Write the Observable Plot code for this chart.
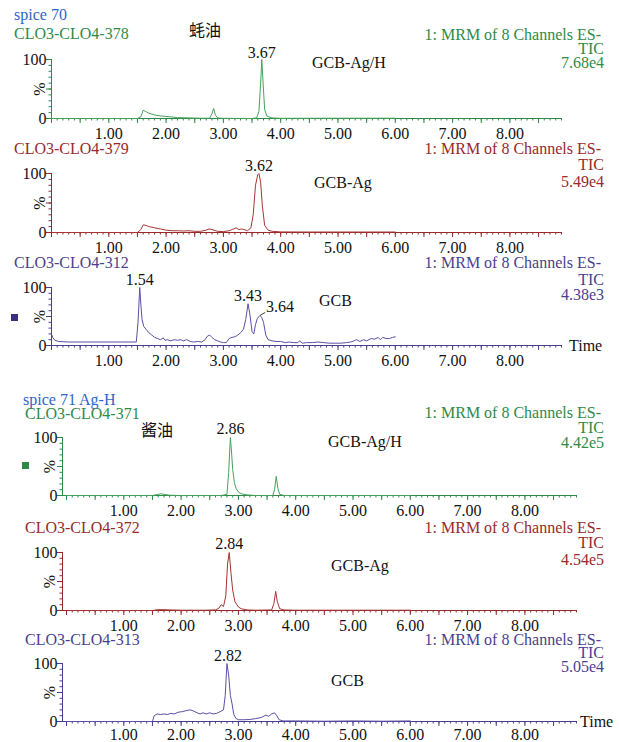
<!DOCTYPE html>
<html><head><meta charset="utf-8">
<script src="https://cdn.jsdelivr.net/npm/d3@7"></script>
<script src="https://cdn.jsdelivr.net/npm/@observablehq/plot@0.6"></script>
<style>
body{margin:0;background:#fff}
#c{position:relative;width:619px;height:742px;overflow:hidden;background:#fff;font-family:"Liberation Serif","Times New Roman",serif;font-size:16px}
.t{position:absolute;line-height:12px;white-space:nowrap}
.cjk{font-family:"Noto Sans CJK SC",sans-serif}
.sq{position:absolute;width:7px;height:7px}
</style></head>
<body><div id="c"></div>
<script>
// ---- data: [time (min), relative intensity %] ----
const s378 = [[0,0],[1.5,0],[1.56,3],[1.6,14],[1.64,12],[1.7,9],[1.8,6],[1.9,4.5],[2.0,3.5],[2.1,2.5],[2.2,1.5],[2.4,1],[2.6,0.5],[2.76,0.5],[2.8,8],[2.83,17],[2.86,6],[2.9,1],[3.0,0.3],[3.5,0],[3.58,1],[3.62,12],[3.65,60],[3.67,100],[3.69,65],[3.72,15],[3.76,4],[3.85,1],[4.0,0.3],[5.0,0.5],[6.0,0.5]];
const s379 = [[0,0],[1.5,0],[1.56,5],[1.6,13],[1.65,12],[1.7,10],[1.8,8],[1.9,6],[2.0,4],[2.1,3],[2.2,3],[2.3,2.5],[2.4,3],[2.5,2],[2.6,2],[2.7,4],[2.75,6],[2.8,5],[2.9,2],[3.0,1.5],[3.1,3],[3.18,6],[3.22,8],[3.27,5],[3.32,6],[3.36,5],[3.42,3],[3.48,8],[3.52,30],[3.56,80],[3.6,98],[3.62,100],[3.65,85],[3.68,45],[3.72,12],[3.78,4],[3.85,2],[4.0,1],[4.5,0.8],[5.0,0.8],[5.5,0.8],[6.0,0.8]];
const s312 = [[0,20],[0.02,14],[0.06,9],[0.12,7],[0.3,6],[0.6,6],[0.9,6],[1.2,6],[1.48,6],[1.51,40],[1.54,100],[1.56,70],[1.58,45],[1.61,33],[1.65,28],[1.7,22],[1.75,18],[1.8,14],[1.85,12],[1.9,10],[1.95,13],[1.98,9],[2.02,10],[2.08,8],[2.14,10],[2.2,9],[2.26,10],[2.3,8],[2.36,10],[2.42,7],[2.48,6],[2.55,7],[2.62,6],[2.68,10],[2.72,16],[2.76,18],[2.8,14],[2.85,10],[2.9,8],[2.95,6],[3.0,5],[3.05,5],[3.1,12],[3.15,14],[3.2,15],[3.25,18],[3.3,22],[3.35,28],[3.39,45],[3.43,72],[3.46,55],[3.5,24],[3.53,20],[3.56,36],[3.59,46],[3.62,50],[3.64,52],[3.67,48],[3.7,40],[3.74,18],[3.78,10],[3.85,8],[3.92,7],[4.0,7],[4.08,5],[4.15,6],[4.22,5],[4.3,5],[4.33,8],[4.38,4],[4.45,5],[4.55,5],[4.65,6],[4.75,5],[4.85,4],[4.95,4],[5.05,4],[5.15,5],[5.22,6],[5.28,8],[5.32,10],[5.38,7],[5.45,10],[5.5,8],[5.58,12],[5.64,11],[5.7,14],[5.74,10],[5.78,14],[5.84,12],[5.9,12],[5.95,14],[6.0,15]];
const s371 = [[0,0],[1.5,0],[1.6,2],[1.65,3],[1.7,2],[1.8,0.5],[2.0,0],[2.7,0],[2.8,2],[2.83,40],[2.86,100],[2.88,75],[2.9,45],[2.93,22],[2.96,12],[3.0,6],[3.05,3],[3.15,1],[3.3,0],[3.6,0],[3.63,10],[3.66,33],[3.69,12],[3.72,2],[3.8,0],[4.0,0],[6.0,0]];
const s372 = [[0,0],[1.5,0],[1.6,1.5],[1.7,1.5],[1.8,1],[2.0,0.5],[2.4,0.5],[2.6,1],[2.66,4],[2.7,10],[2.74,7],[2.78,25],[2.81,80],[2.84,100],[2.87,65],[2.9,35],[2.94,15],[3.0,6],[3.05,3],[3.15,1],[3.3,0.5],[3.58,1],[3.62,12],[3.65,33],[3.68,15],[3.72,3],[3.8,1],[4.0,0.5],[5.0,0.5],[6.0,0.5]];
const s313 = [[0,0],[1.5,0],[1.53,10],[1.58,13],[1.64,12],[1.7,13],[1.76,12],[1.82,14],[1.88,13],[1.95,16],[2.02,17],[2.1,19],[2.16,20],[2.22,18],[2.28,15],[2.33,13],[2.38,15],[2.44,13],[2.5,15],[2.56,13],[2.62,14],[2.68,17],[2.74,20],[2.77,45],[2.8,100],[2.83,80],[2.86,45],[2.89,30],[2.92,12],[2.96,5],[3.0,3],[3.1,3],[3.2,3.5],[3.3,5],[3.4,7],[3.48,11],[3.53,9],[3.58,13],[3.63,15],[3.67,10],[3.71,3],[3.78,1],[4.0,1],[4.5,0.5],[5.0,1],[5.5,0.5],[6.0,1]];

// peak labels: [time, intensity, text]
const peaks378 = [[3.67,100,"3.67"]];
const peaks379 = [[3.62,100,"3.62"]];
const peaks312 = [[1.54,100,"1.54"],[3.43,72,"3.43"]];
const peaks312side = [[3.64,52,"3.64"]];
const leader312 = [[3.64,52,3.73,57]];
const peaks371 = [[2.86,100,"2.86"]];
const peaks372 = [[2.84,100,"2.84"]];
const peaks313 = [[2.82,100,"2.82"]];

const xTickLabels = [1,2,3,4,5,6,7,8];
const channels = ["CLO3-CLO4-378","CLO3-CLO4-379","CLO3-CLO4-312","CLO3-CLO4-371","CLO3-CLO4-372","CLO3-CLO4-313"];
const intensities = ["7.68e4","5.49e4","4.38e3","4.42e5","4.54e5","5.05e4"];
const methods = ["GCB-Ag/H","GCB-Ag","GCB","GCB-Ag/H","GCB-Ag","GCB"];

// ---- styling ----
const GREEN = "#2f8a47", GREEN_L = "#45a35c";
const RED = "#972a2a", RED_L = "#a73434";
const PURP = "#4a3f8e", PURP_L = "#5a50a6";
const BLUE = "#2f64c8";

const C = document.getElementById("c");
function txt(s, o) {
  const d = document.createElement("div");
  d.className = "t" + (o.cjk ? " cjk" : "");
  d.textContent = s;
  d.style.top = (o.cy - 6) + "px";
  if (o.right != null) d.style.right = (619 - o.right) + "px"; else d.style.left = o.left + "px";
  d.style.color = o.color || "#111";
  C.appendChild(d);
}
function sq(x, y, color) {
  const d = document.createElement("div");
  d.className = "sq"; d.style.left = x + "px"; d.style.top = y + "px"; d.style.background = color;
  C.appendChild(d);
}

const K = 57.3;
function panel(p) {
  const data = p.series.map(([t, v]) => ({t, v}));
  const [d0, d1] = p.domain;
  const fw = (d1 - d0) * K;
  const minorX = d3.range(0, d1 + 1e-9, 0.1).map(v => +v.toFixed(2));
  const midX = d3.range(0, d1 + 1e-9, 0.5);
  const marks = [
    Plot.axisX(minorX, {tickSize: 2.5, tickFormat: () => "", stroke: p.axis, label: null}),
    Plot.axisX(midX, {tickSize: 5, tickFormat: () => "", stroke: p.axis, label: null}),
    Plot.axisX(xTickLabels, {tickSize: 0, tickPadding: p.tp, tickFormat: d => d.toFixed(2), label: null, fill: "#111"}),
    Plot.axisY(d3.range(0, 101, 10), {tickSize: 2.5, tickFormat: () => "", stroke: p.axis, label: null}),
    Plot.axisY([0, 50, 100], {tickSize: 5, tickFormat: () => "", stroke: p.axis, label: null}),
    Plot.axisY([0, 100], {tickSize: 0, tickPadding: 5, label: "%", labelAnchor: "center", labelArrow: "none", labelOffset: p.pctOff, fill: "#111"}),
    Plot.frame({anchor: "left", stroke: p.axis}),
    Plot.frame({anchor: "bottom", stroke: p.axis}),
    Plot.line(data, {x: "t", y: "v", stroke: p.line, strokeWidth: 1}),
    Plot.text(p.peaks, {x: d => d[0], y: d => d[1], text: d => d[2], dy: p.pdy, fill: "#111", fontSize: 16})
  ];
  if (p.side) {
    marks.push(Plot.link(p.leader, {x1: d => d[0], y1: d => d[1], x2: d => d[2], y2: d => d[3], stroke: "#111", strokeWidth: 0.8}));
    marks.push(Plot.text(p.side, {x: d => d[0], y: d => d[1], text: d => d[2], dx: 6, dy: -8, textAnchor: "start", fill: "#111", fontSize: 16}));
  }
  const svg = Plot.plot({
    width: 619, height: 30 + (p.y0 - p.y100) + 22,
    marginLeft: p.ml, marginRight: 619 - p.ml - fw, marginTop: 30, marginBottom: 22,
    x: {domain: p.domain}, y: {domain: [0, 100]},
    style: {background: "transparent", fontFamily: "Liberation Serif, Times New Roman, serif", fontSize: "16px", color: "#111", overflow: "visible"},
    marks
  });
  svg.style.position = "absolute";
  svg.style.left = "0px";
  svg.style.top = (p.y100 - 30) + "px";
  C.appendChild(svg);
}

const up = {ml: 51, domain: [0, 8.9], pctOff: 18, tp: 9};
const lo = {ml: 62, domain: [-0.07, 8.9], pctOff: 19, tp: 9};
panel({...up, series: s378, peaks: peaks378, y100: 59, y0: 118, axis: GREEN, line: GREEN_L, pdy: -7});
panel({...up, series: s379, peaks: peaks379, y100: 173, y0: 232, axis: RED, line: RED_L, pdy: -8});
panel({...up, series: s312, peaks: peaks312, side: peaks312side, leader: leader312, y100: 287, y0: 345, axis: PURP, line: PURP_L, pdy: -8});
panel({...lo, series: s371, peaks: peaks371, y100: 437, y0: 495, axis: GREEN, line: GREEN_L, pdy: -9});
panel({...lo, series: s372, peaks: peaks372, y100: 552, y0: 610, axis: RED, line: RED_L, pdy: -9});
panel({...lo, series: s313, peaks: peaks313, y100: 663, y0: 721, axis: PURP, line: PURP_L, pdy: -8, tp: 7});

// ---- header texts ----
const MRM = "1: MRM of 8 Channels ES-";
txt("spice 70", {left: 14, cy: 15, color: BLUE});
txt(channels[0], {left: 14, cy: 34, color: GREEN});
txt("蚝油", {left: 189, cy: 29, cjk: true});
txt(MRM, {right: 601, cy: 35, color: GREEN});
txt("TIC", {right: 604, cy: 49, color: GREEN});
txt(intensities[0], {right: 604, cy: 63, color: GREEN});
txt(methods[0], {left: 312, cy: 63});

txt(channels[1], {left: 14, cy: 149, color: RED});
txt(MRM, {right: 601, cy: 149, color: RED});
txt("TIC", {right: 604, cy: 165, color: RED});
txt(intensities[1], {right: 604, cy: 182, color: RED});
txt(methods[1], {left: 314, cy: 183});

txt(channels[2], {left: 14, cy: 263, color: PURP});
txt(MRM, {right: 601, cy: 263, color: PURP});
txt("TIC", {right: 604, cy: 280, color: PURP});
txt(intensities[2], {right: 604, cy: 295, color: PURP});
txt(methods[2], {left: 319, cy: 301});
txt("Time", {left: 569, cy: 346});
sq(11, 314, "#3b2e7e");

txt("spice 71 Ag-H", {left: 23, cy: 400, color: BLUE});
txt(channels[3], {left: 25, cy: 414, color: GREEN});
txt("酱油", {left: 141, cy: 429, cjk: true});
txt(MRM, {right: 601, cy: 413, color: GREEN});
txt("TIC", {right: 604, cy: 428, color: GREEN});
txt(intensities[3], {right: 604, cy: 443, color: GREEN});
txt(methods[3], {left: 328, cy: 442});
sq(22, 462, "#2e8b46");

txt(channels[4], {left: 25, cy: 528, color: RED});
txt(MRM, {right: 601, cy: 528, color: RED});
txt("TIC", {right: 604, cy: 543, color: RED});
txt(intensities[4], {right: 604, cy: 560, color: RED});
txt(methods[4], {left: 331, cy: 566});

txt(channels[5], {left: 25, cy: 640, color: PURP});
txt(MRM, {right: 601, cy: 640, color: PURP});
txt("TIC", {right: 604, cy: 653, color: PURP});
txt(intensities[5], {right: 604, cy: 667, color: PURP});
txt(methods[5], {left: 331, cy: 681});
txt("Time", {left: 580, cy: 722});
</script></body></html>
